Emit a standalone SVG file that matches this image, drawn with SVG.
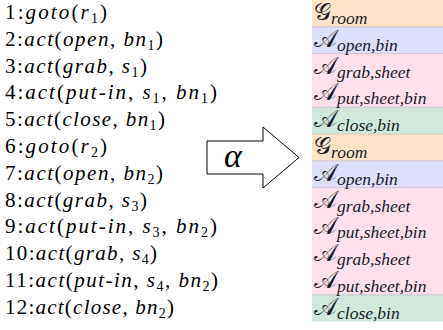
<svg xmlns="http://www.w3.org/2000/svg" width="443" height="330" viewBox="0 0 443 330">
<style>
.t{font-family:"Liberation Serif","DejaVu Serif",serif;font-size:21px;fill:#000}
.i{font-style:italic}
.s{font-size:14px}
.r{font-family:"Liberation Serif","DejaVu Serif",serif;font-size:24px;fill:#1a1a2a}
.rs{font-style:italic;font-size:17.5px}
.sep{stroke:#cbbcc8;stroke-width:0.8}
</style>
<rect width="443" height="330" fill="#fff"/>
<g id="blocks">
<rect x="312" y="0" width="131" height="26.8" fill="#fde4c9"/>
<rect x="312" y="26.8" width="131" height="26.8" fill="#dedff9"/>
<rect x="312" y="53.6" width="131" height="53.6" fill="#fde0ec"/>
<rect x="312" y="107.2" width="131" height="26.8" fill="#d0e9dc"/>
<rect x="312" y="134" width="131" height="26.8" fill="#fde4c9"/>
<rect x="312" y="160.8" width="131" height="26.8" fill="#dedff9"/>
<rect x="312" y="187.6" width="131" height="107.2" fill="#fde0ec"/>
<rect x="312" y="294.8" width="131" height="26.8" fill="#d0e9dc"/>
<line class="sep" x1="312" y1="26.8" x2="443" y2="26.8"/>
<line class="sep" x1="312" y1="53.6" x2="443" y2="53.6"/>
<line class="sep" x1="312" y1="107.2" x2="443" y2="107.2"/>
<line class="sep" x1="312" y1="134" x2="443" y2="134"/>
<line class="sep" x1="312" y1="160.8" x2="443" y2="160.8"/>
<line class="sep" x1="312" y1="187.6" x2="443" y2="187.6"/>
<line class="sep" x1="312" y1="294.8" x2="443" y2="294.8"/>
</g>
<g id="left">
<text class="t" x="5" y="19" textLength="102" lengthAdjust="spacing">1:<tspan class="i">goto</tspan>(<tspan class="i">r</tspan><tspan class="s" dy="4">1</tspan><tspan dy="-4">)</tspan></text>
<text class="t" x="5" y="45.8" textLength="158" lengthAdjust="spacing">2:<tspan class="i">act</tspan>(<tspan class="i">open</tspan>, <tspan class="i">bn</tspan><tspan class="s" dy="4">1</tspan><tspan dy="-4">)</tspan></text>
<text class="t" x="5" y="72.6" textLength="142" lengthAdjust="spacing">3:<tspan class="i">act</tspan>(<tspan class="i">grab</tspan>, <tspan class="i">s</tspan><tspan class="s" dy="4">1</tspan><tspan dy="-4">)</tspan></text>
<text class="t" x="5" y="99.4" textLength="212" lengthAdjust="spacing">4:<tspan class="i">act</tspan>(<tspan class="i">put-in</tspan>, <tspan class="i">s</tspan><tspan class="s" dy="4">1</tspan><tspan dy="-4">, </tspan><tspan class="i">bn</tspan><tspan class="s" dy="4">1</tspan><tspan dy="-4">)</tspan></text>
<text class="t" x="5" y="126.2" textLength="160" lengthAdjust="spacing">5:<tspan class="i">act</tspan>(<tspan class="i">close</tspan>, <tspan class="i">bn</tspan><tspan class="s" dy="4">1</tspan><tspan dy="-4">)</tspan></text>
<text class="t" x="5" y="153" textLength="102" lengthAdjust="spacing">6:<tspan class="i">goto</tspan>(<tspan class="i">r</tspan><tspan class="s" dy="4">2</tspan><tspan dy="-4">)</tspan></text>
<text class="t" x="5" y="179.8" textLength="158" lengthAdjust="spacing">7:<tspan class="i">act</tspan>(<tspan class="i">open</tspan>, <tspan class="i">bn</tspan><tspan class="s" dy="4">2</tspan><tspan dy="-4">)</tspan></text>
<text class="t" x="5" y="206.6" textLength="142" lengthAdjust="spacing">8:<tspan class="i">act</tspan>(<tspan class="i">grab</tspan>, <tspan class="i">s</tspan><tspan class="s" dy="4">3</tspan><tspan dy="-4">)</tspan></text>
<text class="t" x="5" y="233.4" textLength="212" lengthAdjust="spacing">9:<tspan class="i">act</tspan>(<tspan class="i">put-in</tspan>, <tspan class="i">s</tspan><tspan class="s" dy="4">3</tspan><tspan dy="-4">, </tspan><tspan class="i">bn</tspan><tspan class="s" dy="4">2</tspan><tspan dy="-4">)</tspan></text>
<text class="t" x="5" y="260.2" textLength="152" lengthAdjust="spacing">10:<tspan class="i">act</tspan>(<tspan class="i">grab</tspan>, <tspan class="i">s</tspan><tspan class="s" dy="4">4</tspan><tspan dy="-4">)</tspan></text>
<text class="t" x="5" y="287" textLength="213" lengthAdjust="spacing">11:<tspan class="i">act</tspan>(<tspan class="i">put-in</tspan>, <tspan class="i">s</tspan><tspan class="s" dy="4">4</tspan><tspan dy="-4">, </tspan><tspan class="i">bn</tspan><tspan class="s" dy="4">2</tspan><tspan dy="-4">)</tspan></text>
<text class="t" x="5" y="313.8" textLength="169" lengthAdjust="spacing">12:<tspan class="i">act</tspan>(<tspan class="i">close</tspan>, <tspan class="i">bn</tspan><tspan class="s" dy="4">2</tspan><tspan dy="-4">)</tspan></text>
</g>
<g id="arrow">
<path d="M207,141 L263,141 L263,127 L299,157.5 L263,188 L263,174 L207,174 Z" fill="#fff" stroke="#000" stroke-width="1"/>
<text x="233" y="167" text-anchor="middle" font-family="'Liberation Serif',serif" font-style="italic" font-size="34">α</text>
</g>
<g id="right">
<text class="r" x="314" y="20">𝒢<tspan class="rs" dy="4">room</tspan></text>
<text class="r" x="314" y="46.8">𝒜<tspan class="rs" dy="4">open,bin</tspan></text>
<text class="r" x="314" y="73.6">𝒜<tspan class="rs" dy="4">grab,sheet</tspan></text>
<text class="r" x="314" y="100.4">𝒜<tspan class="rs" dy="4">put,sheet,bin</tspan></text>
<text class="r" x="314" y="127.2">𝒜<tspan class="rs" dy="4">close,bin</tspan></text>
<text class="r" x="314" y="154">𝒢<tspan class="rs" dy="4">room</tspan></text>
<text class="r" x="314" y="180.8">𝒜<tspan class="rs" dy="4">open,bin</tspan></text>
<text class="r" x="314" y="207.6">𝒜<tspan class="rs" dy="4">grab,sheet</tspan></text>
<text class="r" x="314" y="234.4">𝒜<tspan class="rs" dy="4">put,sheet,bin</tspan></text>
<text class="r" x="314" y="261.2">𝒜<tspan class="rs" dy="4">grab,sheet</tspan></text>
<text class="r" x="314" y="288">𝒜<tspan class="rs" dy="4">put,sheet,bin</tspan></text>
<text class="r" x="314" y="314.8">𝒜<tspan class="rs" dy="4">close,bin</tspan></text>
</g>
</svg>
